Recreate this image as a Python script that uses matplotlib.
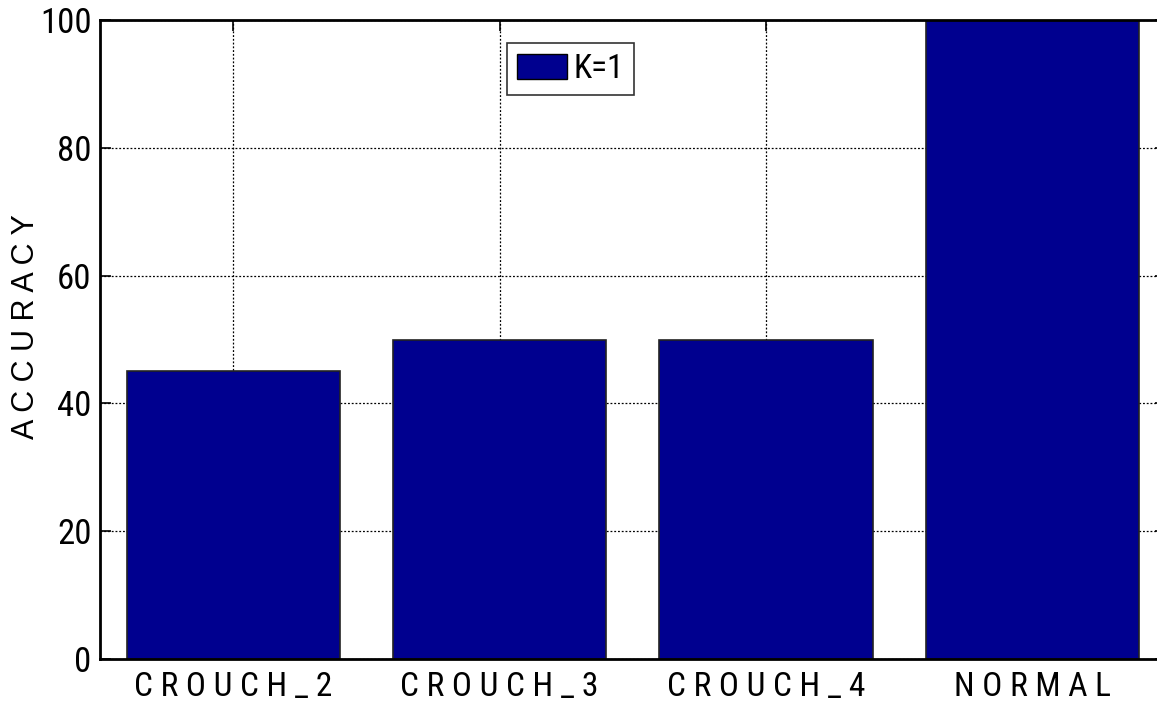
import matplotlib.pyplot as plt
from matplotlib.patches import Patch

categories = ["CROUCH_2", "CROUCH_3", "CROUCH_4", "NORMAL"]
accuracy = [45, 50, 50, 100]
yticks = [0, 20, 40, 60, 80, 100]

bar_color = "#00008F"
plt.rcParams['font.family'] = ['Roboto Condensed', 'Archivo Narrow', 'Liberation Sans', 'DejaVu Sans']

fig = plt.figure(figsize=(11.57, 7.07), dpi=100)
# axes runs a bit past the right border, as in the reference crop
ax = fig.add_axes([100 / 1157, 48 / 707, 1065.6 / 1157, 639 / 707])

pos = list(range(1, len(categories) + 1))
ax.bar(pos, accuracy, width=0.8, color=bar_color, edgecolor="#222222",
       linewidth=1.2, zorder=2)

ax.set_xlim(0.5, 4.5)
ax.set_ylim(0, 100)
ax.set_xticks(pos)
ax.set_xticklabels([" ".join(c) for c in categories], fontsize=24)
ax.set_yticks(yticks)
ax.set_yticklabels([str(v) for v in yticks], fontsize=25)
ax.set_ylabel(" ".join("ACCURACY"), fontsize=22, family=['Liberation Sans', 'DejaVu Sans'])
ax.yaxis.set_label_coords(-0.055, 0.52)

ax.grid(True, linestyle=(0, (1.5, 1.5)), color="black", linewidth=0.9, zorder=0)
ax.set_axisbelow(True)
ax.tick_params(direction="in", length=8, width=1.2, top=True, right=True)
ax.tick_params(axis="x", pad=9)
ax.tick_params(axis="y", pad=6)
for s in ax.spines.values():
    s.set_linewidth(2)

leg = ax.legend(handles=[Patch(facecolor=bar_color, edgecolor="black", label="K=1")],
                loc="upper left", bbox_to_anchor=((507 - 100) / 1065.6, 1 - 23 / 639),
                fontsize=24, frameon=True, fancybox=False, edgecolor="black",
                handlelength=1.5, handleheight=0.75, handletextpad=0.2,
                borderpad=0.3, borderaxespad=0)
leg.get_frame().set_linewidth(1.2)

fig.savefig("out.png", dpi=100)
plt.close(fig)
